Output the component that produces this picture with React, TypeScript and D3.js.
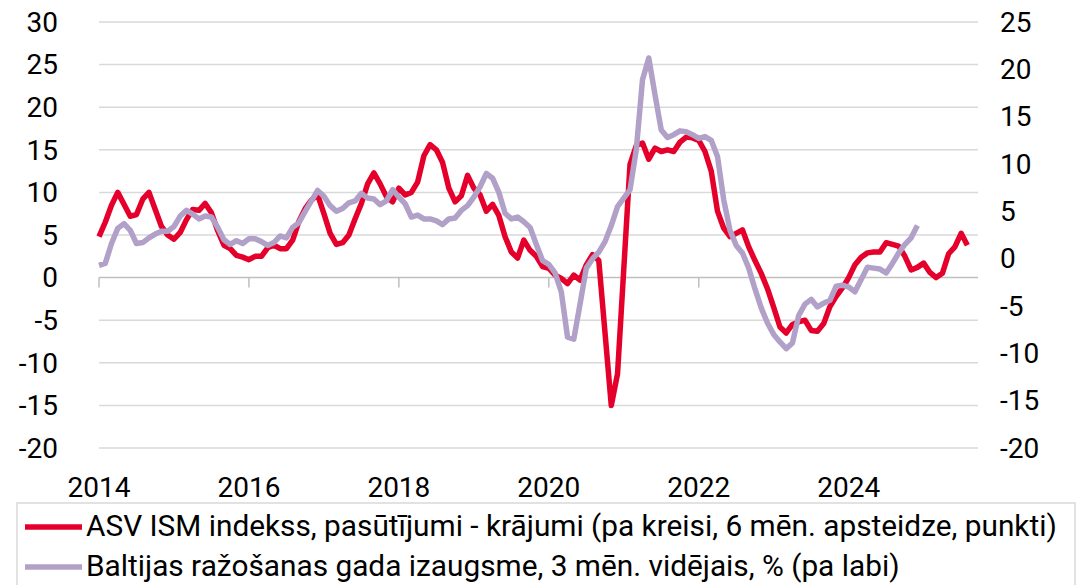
import React from 'react';
import * as d3 from 'd3';

const startYear = 2014;
// US ISM new orders minus inventories (left axis, 6 months lead), monthly from Jan 2014
const ismValues: number[] = [
  4.8, 6.5, 8.5, 10.0, 8.6, 7.2, 7.4, 9.2, 10.0, 8.0, 6.0, 5.0,
  4.5, 5.3, 6.8, 8.0, 7.9, 8.7, 7.6, 5.5, 3.8, 3.4, 2.6, 2.4,
  2.1, 2.5, 2.5, 3.5, 3.8, 3.4, 3.4, 4.4, 6.6, 8.1, 9.1, 9.7,
  7.5, 5.2, 3.9, 4.1, 5.0, 6.9, 8.7, 11.0, 12.3, 11.0, 9.5, 8.9,
  10.5, 9.7, 10.0, 11.2, 14.3, 15.6, 15.0, 13.5, 10.5, 8.9, 9.6, 12.0,
  10.5, 9.7, 7.8, 8.6, 7.3, 4.8, 3.0, 2.3, 4.4, 3.2, 2.5, 1.3,
  1.1, 0.3, -0.1, -0.7, 0.3, -0.3, 1.5, 2.7, 2.0, -6.5, -15.0, -11.3,
  1.0, 13.3, 15.5, 15.8, 13.9, 15.2, 14.8, 15.0, 14.8, 15.9, 16.5, 16.4,
  16.1, 14.8, 12.5, 7.8, 5.8, 4.8, 5.2, 5.6, 3.6, 2.0, 0.5, -1.3,
  -3.5, -5.8, -6.5, -5.5, -5.2, -5.0, -6.2, -6.3, -5.4, -3.4, -2.2, -1.2,
  0.0, 1.5, 2.4, 2.9, 3.0, 3.0, 4.1, 3.9, 3.7, 2.5, 0.9, 1.2,
  1.7, 0.6, 0.0, 0.5, 2.8, 3.6, 5.2, 3.8,
];
// Baltic manufacturing annual growth, 3-month average, % (right axis), monthly from Jan 2014
const balticValues: number[] = [
  -0.7, -0.5, 1.6, 3.2, 3.7, 3.0, 1.6, 1.7, 2.2, 2.6, 2.9, 2.9,
  3.4, 4.5, 5.1, 4.7, 4.2, 4.5, 4.4, 3.3, 2.0, 1.5, 1.9, 1.6,
  2.1, 2.1, 1.8, 1.4, 1.7, 2.4, 2.2, 3.3, 3.8, 5.0, 6.1, 7.2,
  6.6, 5.6, 5.0, 5.3, 5.9, 6.1, 6.9, 6.4, 6.3, 5.7, 6.1, 7.3,
  6.5, 5.8, 4.4, 4.6, 4.2, 4.2, 4.0, 3.6, 4.2, 4.3, 5.1, 5.6,
  6.5, 7.6, 9.0, 8.5, 7.0, 4.8, 4.2, 4.4, 3.9, 3.3, 1.5, -0.2,
  -0.6, -1.5, -3.5, -8.3, -8.5, -4.8, -1.0, 0.0, 0.7, 1.8, 3.5, 5.5,
  6.4, 7.3, 11.5, 18.9, 21.2, 17.3, 13.6, 12.8, 13.1, 13.5, 13.4, 13.1,
  12.7, 12.9, 12.5, 10.8, 6.2, 3.0, 1.4, 0.6, -1.0, -3.2, -5.2, -6.8,
  -8.0, -8.8, -9.5, -8.9, -6.0, -4.8, -4.3, -5.1, -4.7, -4.4, -2.9, -2.8,
  -3.0, -3.5, -2.2, -0.9, -1.0, -1.1, -1.5, -0.5, 0.6, 1.5, 2.2, 3.5,
];
const leftTicks = [30, 25, 20, 15, 10, 5, 0, -5, -10, -15, -20];
const rightTicks = [25, 20, 15, 10, 5, 0, -5, -10, -15, -20];
const yearTicks = [2014, 2016, 2018, 2020, 2022, 2024];
const legendLabels = [
  'ASV ISM indekss, pasūtījumi - krājumi (pa kreisi, 6 mēn. apsteidze, punkti)',
  'Baltijas ražošanas gada izaugsme, 3 mēn. vidējais, % (pa labi)',
];

const RED = '#e4002b';
const PURPLE = '#b1a0c7';
const FONT = 'Roboto, "Noto Sans", sans-serif';

export default function App() {
  const W = 1086;
  const H = 585;
  const x = d3.scaleLinear().domain([0, 140.7]).range([99, 978]);
  const yL = d3.scaleLinear().domain([-20, 30]).range([448, 22]);
  const yR = d3.scaleLinear().domain([-20, 25]).range([448, 22]);

  const lineL = d3
    .line<number>()
    .x((_, i) => x(i))
    .y((d) => yL(d));
  const lineR = d3
    .line<number>()
    .x((_, i) => x(i))
    .y((d) => yR(d));

  const x0 = x.range()[0];
  const x1 = x.range()[1];

  return (
    <svg
      width={W}
      height={H}
      style={{ position: 'absolute', left: 0, top: 0, background: '#fff' }}
      fontFamily={FONT}
    >
      {/* gridlines */}
      {leftTicks.map((t) =>
        t === 0 ? null : (
          <line key={t} x1={x0} x2={x1} y1={yL(t)} y2={yL(t)} stroke="#d9d9d9" strokeWidth={1.5} />
        )
      )}
      {/* zero axis */}
      <line x1={x0} x2={x1} y1={yL(0)} y2={yL(0)} stroke="#bfbfbf" strokeWidth={1.5} />
      {yearTicks.map((yr) => {
        const xx = x((yr - startYear) * 12);
        return <line key={yr} x1={xx} x2={xx} y1={yL(0)} y2={yL(0) + 10} stroke="#bfbfbf" strokeWidth={1.5} />;
      })}
      {/* left axis labels */}
      {leftTicks.map((t) => (
        <text key={t} x={58} y={yL(t)} dy="0.35em" textAnchor="end" fontSize={28} fill="#000">
          {t}
        </text>
      ))}
      {/* right axis labels */}
      {rightTicks.map((t) => (
        <text key={t} x={1000} y={yR(t)} dy="0.35em" textAnchor="start" fontSize={28} fill="#000">
          {t}
        </text>
      ))}
      {/* x labels */}
      {yearTicks.map((yr) => (
        <text key={yr} x={x((yr - startYear) * 12)} y={497} textAnchor="middle" fontSize={28} fill="#000">
          {yr}
        </text>
      ))}
      {/* series */}
      <path d={lineL(ismValues) || ''} fill="none" stroke={RED} strokeWidth={5.5} strokeLinejoin="round" />
      <path d={lineR(balticValues) || ''} fill="none" stroke={PURPLE} strokeWidth={5.5} strokeLinejoin="round" />
      {/* legend */}
      <rect x={17} y={503} width={1058} height={100} fill="none" stroke="#d9d9d9" strokeWidth={1.5} />
      <line x1={25} x2={82} y1={527} y2={527} stroke={RED} strokeWidth={5.5} />
      <text x={86} y={536} fontSize={29.8} fill="#000">
        {legendLabels[0]}
      </text>
      <line x1={25} x2={82} y1={567} y2={567} stroke={PURPLE} strokeWidth={5.5} />
      <text x={86} y={576} fontSize={29.8} fill="#000">
        {legendLabels[1]}
      </text>
    </svg>
  );
}
